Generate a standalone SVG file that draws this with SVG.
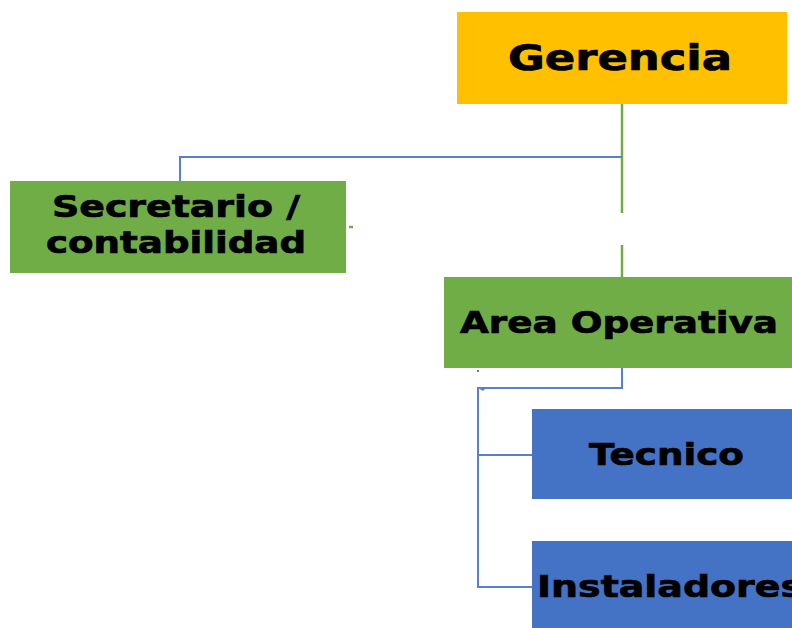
<svg xmlns="http://www.w3.org/2000/svg" width="792" height="628" viewBox="0 0 792 628">
<style>
.t{font-family:"DejaVu Sans","Verdana",sans-serif;font-weight:bold;fill:#000;stroke:#000;stroke-width:0.7;}
.b{stroke:#5b7fd0;stroke-width:2;fill:none;}
.g{stroke:#70ad47;stroke-width:2.5;fill:none;}
</style>
<rect width="792" height="628" fill="#fff"/>
<g id="connectors">
<path class="g" d="M622 104V213M622 245V277"/>
<path class="b" d="M622 157H180V183"/>
<path class="g" d="M349 227H353" stroke-width="2"/>
<path class="b" d="M622 368V388H478V587H532M478 455H532"/>
<path class="b" d="M622 368V388" stroke-width="3"/>
<path d="M478 388l8 0l-3 3z" fill="#5b7fd0"/>
<rect x="477" y="370" width="2" height="2" fill="#5b7fd0"/>
</g>
<g id="gerencia">
<rect x="457" y="12" width="330" height="92" fill="#ffc000"/>
<text class="t" x="508" y="70" font-size="35" textLength="224" lengthAdjust="spacingAndGlyphs">Gerencia</text>
</g>
<g id="secretario">
<rect x="10" y="181" width="336" height="92" fill="#70ad47"/>
<text class="t" x="52" y="217" font-size="30" textLength="248" lengthAdjust="spacingAndGlyphs">Secretario /</text>
<text class="t" x="46" y="253" font-size="30" textLength="260" lengthAdjust="spacingAndGlyphs">contabilidad</text>
</g>
<g id="area-operativa">
<rect x="444" y="277" width="348" height="91" fill="#70ad47"/>
<text class="t" x="460" y="333" font-size="30" textLength="318" lengthAdjust="spacingAndGlyphs">Area Operativa</text>
</g>
<g id="tecnico">
<rect x="532" y="409" width="260" height="90" fill="#4472c4"/>
<text class="t" x="589" y="465" font-size="31" textLength="155" lengthAdjust="spacingAndGlyphs">Tecnico</text>
</g>
<g id="instaladores">
<rect x="532" y="541" width="260" height="87" fill="#4472c4"/>
<text class="t" x="537" y="597" font-size="31" textLength="266" lengthAdjust="spacingAndGlyphs">Instaladores</text>
</g>
</svg>
